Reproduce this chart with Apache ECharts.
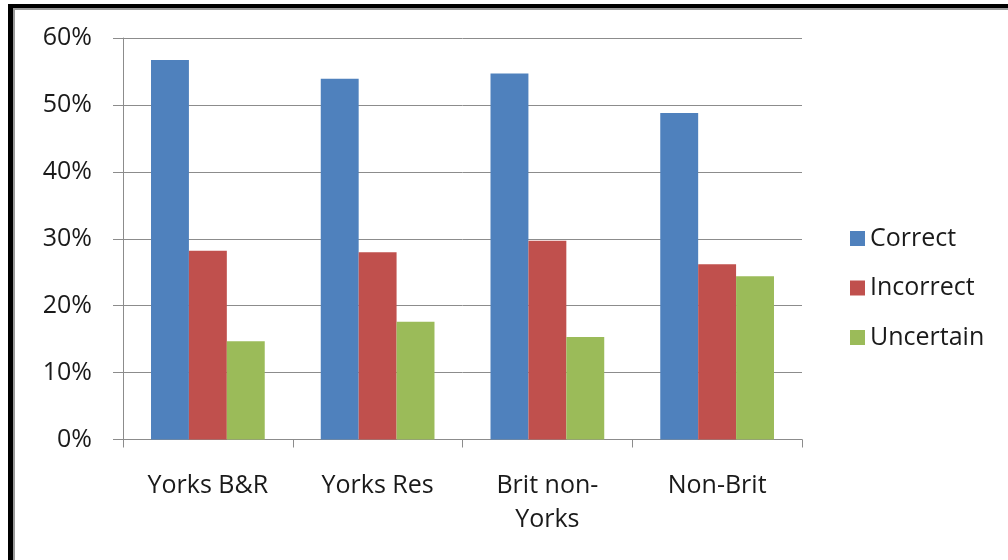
<!DOCTYPE html>
<html>
<head>
<meta charset="utf-8">
<script src="https://cdn.jsdelivr.net/npm/echarts@6/dist/echarts.min.js"></script>
<style>
  html, body { margin: 0; padding: 0; background: #fff; }
  #wrap { position: relative; width: 1008px; height: 560px; overflow: hidden; background: #fff; }
  /* chart frame: heavy dark edge with a thin grey inner line */
  #frame {
    position: absolute; left: 8px; top: 4px; width: 1200px; height: 700px;
    border-left: 5px solid #000; border-top: 4px solid #000; box-sizing: border-box;
  }
  #frame-inner {
    position: absolute; left: 0; top: 0; width: 100%; height: 100%;
    border-left: 2px solid #9a9a9a; border-top: 2px solid #9a9a9a; box-sizing: border-box;
  }
  #chart { position: absolute; left: 0; top: 0; width: 1008px; height: 560px; }
</style>
</head>
<body>
<div id="wrap">
  <div id="frame"><div id="frame-inner"></div></div>
  <div id="chart"></div>
</div>
<script>
// Groups of respondents along the x axis
const categories = ['Yorks B&R', 'Yorks Res', 'Brit non-\nYorks', 'Non-Brit'];

// Share of answers per group (percent)
const correct   = [56.7, 53.9, 54.7, 48.8];
const incorrect = [28.2, 28.0, 29.7, 26.2];
const uncertain = [14.7, 17.6, 15.3, 24.4];

const seriesNames = ['Correct', 'Incorrect', 'Uncertain'];
const seriesColors = ['#4F81BD', '#C0504D', '#9BBB59'];

const yTicks = { min: 0, max: 60, interval: 10 };

const fontFamily = '"Open Sans", "Noto Sans", sans-serif';
const axisGrey = '#8c8c8c';
const labelSize = 25;

const chart = echarts.init(document.getElementById('chart'), null, { renderer: 'canvas' });

const values = [correct, incorrect, uncertain];

chart.setOption({
  backgroundColor: 'transparent',
  animation: false,
  textStyle: { fontFamily: fontFamily, color: '#1a1a1a' },
  grid: { left: 123, right: 206, top: 38, bottom: 120.5, containLabel: false },
  legend: {
    orient: 'vertical',
    left: 845,
    top: 221,
    icon: 'rect',
    itemWidth: 15,
    itemHeight: 15,
    itemGap: 24.5,
    textStyle: { fontFamily: fontFamily, fontSize: labelSize, color: '#1a1a1a', lineHeight: 24, padding: [0, 0, 0, 0] },
    data: seriesNames
  },
  xAxis: {
    type: 'category',
    data: categories,
    axisLine: { show: true, lineStyle: { color: axisGrey, width: 1 } },
    axisTick: { show: true, length: 8, alignWithLabel: false, lineStyle: { color: axisGrey } },
    axisLabel: {
      fontFamily: fontFamily, fontSize: labelSize, color: '#1a1a1a',
      margin: 29, lineHeight: 34, interval: 0
    },
    splitLine: { show: false }
  },
  yAxis: {
    type: 'value',
    min: yTicks.min,
    max: yTicks.max,
    interval: yTicks.interval,
    axisLine: { show: true, lineStyle: { color: axisGrey, width: 1 } },
    axisTick: { show: true, length: 10, lineStyle: { color: axisGrey } },
    axisLabel: {
      fontFamily: fontFamily, fontSize: labelSize, color: '#1a1a1a', margin: 31,
      formatter: v => v + '%'
    },
    splitLine: { show: true, lineStyle: { color: axisGrey, width: 1 } }
  },
  series: seriesNames.map((name, i) => ({
    name: name,
    type: 'bar',
    data: values[i],
    barGap: '0%',
    barCategoryGap: '33%',
    itemStyle: { color: seriesColors[i] },
    emphasis: { disabled: true }
  }))
});
</script>
</body>
</html>
